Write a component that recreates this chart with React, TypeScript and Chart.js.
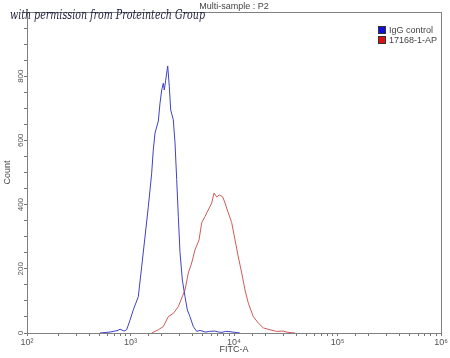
import React, { useEffect, useRef } from "react";
import { Chart, registerables } from "chart.js";

Chart.register(...registerables);

// IgG control histogram (FITC-A intensity, count)
const igGX = [507, 634, 757, 792, 866, 918, 989, 1064, 1189, 1282, 1380, 1486, 1543, 1602, 1660, 1725, 1791, 1857, 1928, 2002, 2074, 2122, 2189, 2288, 2371, 2446, 2592, 2693, 2795, 2897, 3008, 3168, 3364, 3540, 3756, 4047, 4366, 4700, 5250, 5800, 6550, 7100, 7650, 8300, 9140, 10200, 11420];
const igGCounts = [0, 3, 8, 12, 6, 10, 40, 72, 113, 206, 299, 393, 445, 498, 570, 623, 642, 660, 716, 757, 778, 757, 788, 832, 768, 695, 664, 592, 478, 364, 251, 165, 113, 72, 51, 20, 5, 8, 3, 5, 6, 3, 2, 5, 4, 2, 0];

// 17168-1-AP histogram
const apX = [1602, 1857, 2074, 2318, 2592, 2897, 3126, 3364, 3617, 3899, 4198, 4592, 4879, 5250, 5450, 5861, 6091, 6413, 6808, 7211, 7780, 8185, 8810, 9500, 10230, 11010, 11870, 12770, 13750, 15360, 17170, 19190, 22270, 25860, 29730, 33240, 38850];
const apCounts = [0, 10, 20, 51, 61, 82, 109, 134, 187, 218, 259, 290, 344, 363, 374, 394, 405, 436, 424, 430, 424, 405, 374, 344, 290, 237, 187, 134, 93, 51, 31, 16, 10, 5, 6, 2, 0];

const seriesNames = ["IgG control", "17168-1-AP"];
const seriesColors = ["#4040c8", "#d05a5a"];
const legendColors = ["#1010e0", "#e01010"];
const chartTitle = "Multi-sample : P2";
const xTitle = "FITC-A";
const yTitle = "Count";
const watermark = "with permission from Proteintech Group";
const yMax = 1000;
const supers: Record<string, string> = { "2": "²", "3": "³", "4": "⁴", "5": "⁵", "6": "⁶" };

const FONT = '"Liberation Sans", Arial, sans-serif';

export default function App() {
  const ref = useRef<HTMLCanvasElement | null>(null);

  useEffect(() => {
    document.body.style.margin = "0";
    const canvas = ref.current;
    if (!canvas) return;

    const decor = {
      id: "decor",
      afterDraw(chart: any) {
        const { ctx, chartArea } = chart;
        const { left, right, top, bottom } = chartArea;
        ctx.save();
        // frame
        ctx.strokeStyle = "#808080";
        ctx.lineWidth = 1;
        ctx.strokeRect(left + 0.5, top + 0.5, right - left, bottom - top);
        // title
        ctx.fillStyle = "#444";
        ctx.font = `9px ${FONT}`;
        ctx.textAlign = "center";
        ctx.textBaseline = "middle";
        ctx.fillText(chartTitle, (left + right) / 2, 7);
        // axis titles
        ctx.fillText(xTitle, (left + right) / 2, 350);
        ctx.save();
        ctx.translate(8, (top + bottom) / 2);
        ctx.rotate(-Math.PI / 2);
        ctx.fillText(yTitle, 0, 0);
        ctx.restore();
        // legend
        ctx.textAlign = "left";
        ctx.font = `9px ${FONT}`;
        seriesNames.forEach((name, i) => {
          const y = 26 + i * 10;
          ctx.fillStyle = legendColors[i];
          ctx.fillRect(378, y, 8, 8);
          ctx.strokeStyle = "#333";
          ctx.strokeRect(378.5, y + 0.5, 7, 7);
          ctx.fillStyle = "#444";
          ctx.fillText(name, 389, y + 4.5);
        });
        // watermark
        ctx.fillStyle = "#1a1a3a";
        ctx.font = `italic 13px "DejaVu Serif", serif`;
        ctx.textAlign = "left";
        ctx.textBaseline = "alphabetic";
        const w = ctx.measureText(watermark).width;
        ctx.save();
        ctx.translate(10, 19);
        ctx.scale(195 / w, 1);
        ctx.fillText(watermark, 0, 0);
        ctx.restore();
        ctx.restore();
      },
    };

    const chart = new Chart(canvas, {
      type: "line",
      data: {
        datasets: [
          {
            label: seriesNames[0],
            data: igGX.map((x, i) => ({ x, y: igGCounts[i] })),
            borderColor: seriesColors[0],
            borderWidth: 1,
            pointRadius: 0,
            tension: 0,
            fill: false,
          },
          {
            label: seriesNames[1],
            data: apX.map((x, i) => ({ x, y: apCounts[i] })),
            borderColor: seriesColors[1],
            borderWidth: 1,
            pointRadius: 0,
            tension: 0,
            fill: false,
          },
        ],
      },
      plugins: [decor],
      options: {
        animation: false,
        responsive: false,
        maintainAspectRatio: false,
        layout: { padding: { top: 12, right: 9, left: 0, bottom: 0 } },
        plugins: {
          legend: { display: false },
          tooltip: { enabled: false },
          title: { display: false },
        },
        scales: {
          x: {
            type: "logarithmic",
            min: 100,
            max: 1000000,
            afterFit: (s: any) => {
              s.height = 25;
            },
            grid: {
              drawOnChartArea: false,
              drawTicks: true,
              tickLength: 3,
              color: "#777",
            },
            border: { color: "#777" },
            ticks: {
              autoSkip: false,
              maxRotation: 0,
              minRotation: 0,
              padding: 1,
              color: "#555",
              font: { size: 9, family: FONT },
              callback: (v: any) => {
                const l = Math.log10(Number(v));
                const r = Math.round(l);
                if (Math.abs(l - r) < 1e-9) return "10" + (supers[String(r)] || "");
                return "";
              },
            },
          },
          y: {
            type: "linear",
            min: 0,
            max: yMax,
            afterFit: (s: any) => {
              s.width = 27;
            },
            grid: {
              drawOnChartArea: false,
              drawTicks: true,
              tickLength: 3,
              color: "#777",
            },
            border: { color: "#777" },
            ticks: {
              stepSize: 50,
              autoSkip: false,
              minRotation: 90,
              maxRotation: 90,
              crossAlign: "center",
              padding: -3,
              color: "#555",
              font: { size: 8, family: FONT },
              callback: (v: any) => {
                const n = Number(v);
                if (n % 200 === 0 && n < yMax) return String(n);
                return "";
              },
            },
          },
        },
      },
    } as any);

    return () => chart.destroy();
  }, []);

  return (
    <div style={{ width: 450, height: 358, background: "#fff" }}>
      <canvas ref={ref} width={450} height={358} style={{ display: "block" }} />
    </div>
  );
}
